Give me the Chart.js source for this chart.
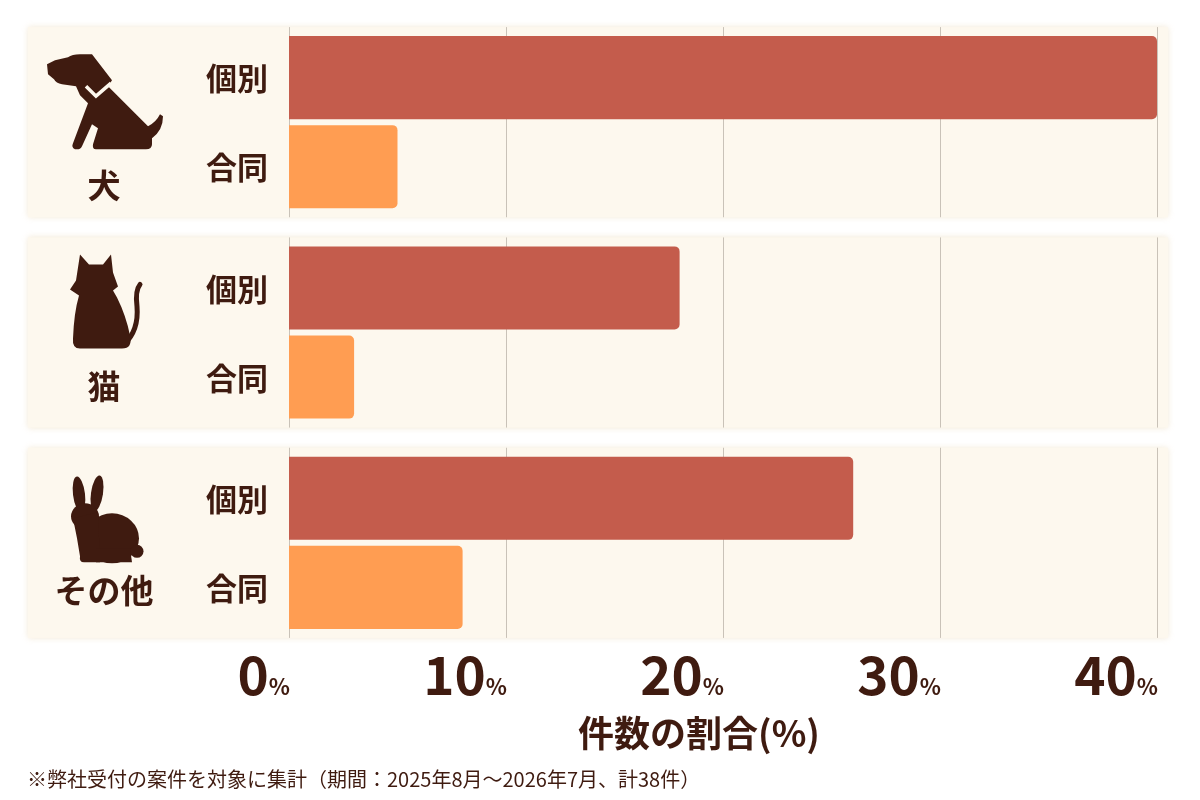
<!DOCTYPE html>
<html>
<head>
<meta charset="utf-8">
<script src="https://cdn.jsdelivr.net/npm/chart.js@4"></script>
<style>
html,body{margin:0;padding:0;background:#fff;}
#wrap{width:1200px;height:800px;position:relative;}
</style>
</head>
<body>
<div id="wrap"><canvas id="c" width="1200" height="800"></canvas></div>
<script>
// ---- data ----
const groups = ['犬', '猫', 'その他'];
const seriesNames = ['個別', '合同'];
const kobetsu = [40, 18, 26];
const godo = [5, 3, 8];
const tickValues = [0, 10, 20, 30, 40];
const axisTitle = '件数の割合(%)';
const footnote = '※弊社受付の案件を対象に集計（期間：2025年8月～2026年7月、計38件）';

const TEXT = '#3f1b10';
const BAND = '#fdf8ee';
const FONT = '"Noto Sans CJK JP", "Noto Sans", sans-serif';

function drawDog(ctx){
  ctx.beginPath();
  ctx.moveTo(47,64); ctx.lineTo(55,60); ctx.lineTo(68,57);
  ctx.quadraticCurveTo(72,54,80,54); ctx.lineTo(92,54);
  ctx.lineTo(112,80); ctx.lineTo(108,86); ctx.lineTo(140,118); ctx.lineTo(148,126);
  ctx.quadraticCurveTo(156,122,160,114); ctx.lineTo(163,116);
  ctx.quadraticCurveTo(163,130,152,138); ctx.lineTo(152,144);
  ctx.quadraticCurveTo(152,149,146,149); ctx.lineTo(96,149);
  ctx.quadraticCurveTo(92,149,93,144); ctx.lineTo(98,128); ctx.lineTo(92,124);
  ctx.lineTo(82,146); ctx.quadraticCurveTo(80,150,75,149);
  ctx.quadraticCurveTo(71,147,73,143); ctx.lineTo(88,103); ctx.lineTo(80,95);
  ctx.lineTo(76,86); ctx.lineTo(62,84); ctx.quadraticCurveTo(56,83,54,79);
  ctx.lineTo(48,74); ctx.closePath(); ctx.fill();
  ctx.save(); ctx.strokeStyle = BAND; ctx.lineWidth = 3.5; ctx.lineJoin='miter';
  ctx.beginPath(); ctx.moveTo(86,86); ctx.lineTo(96,96); ctx.lineTo(111,83); ctx.stroke(); ctx.restore();
}
function drawCat(ctx){
  ctx.beginPath();
  ctx.moveTo(80,254); ctx.lineTo(89,264); ctx.lineTo(103,264); ctx.lineTo(111,254);
  ctx.lineTo(113,272); ctx.lineTo(118,286); ctx.lineTo(113,290); ctx.lineTo(117,297);
  ctx.quadraticCurveTo(126,315,130,335); ctx.quadraticCurveTo(133,348,122,348);
  ctx.lineTo(80,348); ctx.quadraticCurveTo(72,348,73,338);
  ctx.quadraticCurveTo(74,312,79,295); ctx.lineTo(70,289); ctx.lineTo(76,280);
  ctx.closePath(); ctx.fill();
  ctx.save(); ctx.lineWidth = 5; ctx.lineCap='round'; ctx.strokeStyle = TEXT;
  ctx.beginPath(); ctx.moveTo(124,344); ctx.quadraticCurveTo(139,330,137,306);
  ctx.quadraticCurveTo(135,290,140,284); ctx.stroke(); ctx.restore();
}
function drawRabbit(ctx){
  const el=(x,y,rx,ry,r)=>{ctx.beginPath();ctx.ellipse(x,y,rx,ry,r,0,Math.PI*2);ctx.fill();};
  el(79,494,6,18,-0.12);
  el(97,493,6,18,0.15);
  el(85,516,14,13,0);
  el(112,538,27,25,0);
  el(137,551,6.5,6.5,0);
  ctx.beginPath();
  ctx.moveTo(73,518); ctx.lineTo(98,512); ctx.lineTo(100,562); ctx.lineTo(84,562);
  ctx.quadraticCurveTo(79,562,80,556); ctx.lineTo(77,538); ctx.closePath(); ctx.fill();
  ctx.beginPath();
  ctx.moveTo(96,548); ctx.lineTo(130,548); ctx.lineTo(132,562); ctx.lineTo(96,562); ctx.closePath(); ctx.fill();
}
const iconDrawers = [[drawDog,122,63],[drawCat,332,54],[drawRabbit,542.5,48]];

const decorPlugin = {
  id: 'decor',
  beforeDraw(chart){
    const {ctx, scales:{x,y}} = chart;
    const slot = y.getPixelForValue(1) - y.getPixelForValue(0);
    ctx.save();
    ctx.fillStyle = '#fff'; ctx.fillRect(0,0,chart.width,chart.height);
    ctx.fillStyle = BAND;
    ctx.shadowColor = 'rgba(240,228,205,0.8)'; ctx.shadowBlur = 6;
    groups.forEach((g,i)=>{
      const c = y.getPixelForValue(i);
      ctx.fillRect(28, c - slot*0.452, x.right + 11 - 28, slot*0.904);
    });
    ctx.shadowBlur = 0;
    // grid lines within bands
    ctx.strokeStyle = '#c9c2b8'; ctx.lineWidth = 1;
    groups.forEach((g,i)=>{
      const c = y.getPixelForValue(i);
      tickValues.forEach(v=>{
        const px = Math.round(x.getPixelForValue(v)) + 0.5;
        ctx.beginPath(); ctx.moveTo(px, c - slot*0.452); ctx.lineTo(px, c + slot*0.452); ctx.stroke();
      });
    });
    ctx.restore();
  },
  afterDraw(chart){
    const {ctx, scales:{x,y}} = chart;
    ctx.save();
    ctx.fillStyle = TEXT;
    // series labels per bar
    ctx.font = 'bold 31px ' + FONT; ctx.textAlign='center'; ctx.textBaseline='middle';
    chart.data.datasets.forEach((ds,di)=>{
      const meta = chart.getDatasetMeta(di);
      meta.data.forEach(bar=>{ ctx.fillText(ds.label, 237, bar.y + 1); });
    });
    // group labels + icons
    ctx.font = 'bold 33px ' + FONT;
    groups.forEach((g,i)=>{
      const c = y.getPixelForValue(i);
      const [fn, ref, off] = iconDrawers[i];
      ctx.save(); ctx.translate(0, c - ref); ctx.fillStyle = TEXT; fn(ctx); ctx.restore();
      ctx.fillText(g, 104, c + off);
    });
    // x tick labels
    ctx.textBaseline = 'alphabetic'; ctx.textAlign = 'right';
    tickValues.forEach(v=>{
      const px = x.getPixelForValue(v);
      ctx.font = 'bold 22px ' + FONT;
      const w = ctx.measureText('%').width;
      ctx.fillText('%', px + 1, 695);
      ctx.font = 'bold 53px ' + FONT;
      ctx.fillText(String(v), px - w + 1, 695);
    });
    // axis title
    ctx.textAlign='center'; ctx.textBaseline='middle';
    ctx.font = 'bold 36px ' + FONT;
    ctx.fillText(axisTitle, 699, 733);
    // footnote
    ctx.textAlign='left';
    ctx.font = '20px ' + FONT;
    ctx.fillText(footnote, 27, 779);
    ctx.restore();
  }
};

new Chart(document.getElementById('c'), {
  type: 'bar',
  data: {
    labels: groups,
    datasets: [
      {label: seriesNames[0], data: kobetsu, backgroundColor: '#c45c4c'},
      {label: seriesNames[1], data: godo, backgroundColor: '#ff9d52'}
    ]
  },
  options: {
    indexAxis: 'y',
    responsive: false,
    animation: false,
    devicePixelRatio: 1,
    categoryPercentage: 0.847,
    barPercentage: 0.933,
    datasets: {bar: {borderRadius: 5, borderSkipped: 'start'}},
    layout: {padding: {left: 289, right: 43, top: 17, bottom: 152}},
    plugins: {legend: {display: false}, tooltip: {enabled: false}},
    scales: {
      x: {display: false, min: 0, max: 40, ticks: {stepSize: 10}},
      y: {display: false}
    }
  },
  plugins: [decorPlugin]
});
</script>
</body>
</html>
